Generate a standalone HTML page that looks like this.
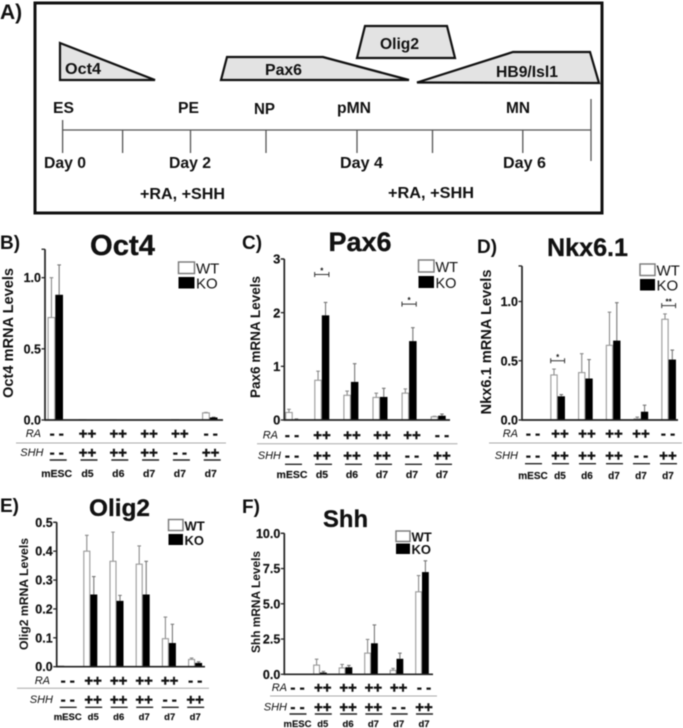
<!DOCTYPE html>
<html lang="en">
<head>
<meta charset="utf-8">
<title>Motor neuron differentiation figure</title>
<style>
html,body{margin:0;padding:0;background:#fff;width:683px;height:728px;overflow:hidden}
svg{display:block;filter:blur(0.5px)}
text{font-family:"Liberation Sans",Arial,sans-serif;fill:#111}
.b{font-weight:700}
.lbl{font-weight:700;font-size:15.5px}
</style>
</head>
<body>
<svg id="figure" xmlns="http://www.w3.org/2000/svg" width="683" height="728" viewBox="0 0 683 728">
  <g id="panel-a">
    <text class="b" x="0" y="19" font-size="21">A)</text>
    <rect x="35" y="3" width="567" height="210" fill="#fff" stroke="#111" stroke-width="3"/>
    <g stroke="#111" stroke-width="2.2" fill="#e3e3e3" stroke-linejoin="miter">
      <polygon points="60,43 155,80 60,80"/>
      <polygon points="227,57 323,57 409,80 221,80"/>
      <polygon points="365,26 447,26 455,58 357,58"/>
      <polygon points="417,82.5 513,52 590,52 599,83"/>
    </g>
    <text class="lbl" x="65" y="74" textLength="36" lengthAdjust="spacingAndGlyphs">Oct4</text>
    <text class="lbl" x="265" y="75" textLength="37" lengthAdjust="spacingAndGlyphs">Pax6</text>
    <text class="lbl" x="380" y="49" textLength="39" lengthAdjust="spacingAndGlyphs">Olig2</text>
    <text class="lbl" x="496" y="77" textLength="62" lengthAdjust="spacingAndGlyphs">HB9/Isl1</text>
    <g stroke="#555" stroke-width="1.3">
      <line x1="62.6" y1="130" x2="591" y2="130"/>
      <line x1="62.6" y1="120" x2="62.6" y2="153"/>
      <line x1="122.6" y1="130" x2="122.6" y2="153"/>
      <line x1="190.5" y1="130" x2="190.5" y2="153"/>
      <line x1="266" y1="130" x2="266" y2="153"/>
      <line x1="357" y1="130" x2="357" y2="153"/>
      <line x1="432.5" y1="130" x2="432.5" y2="153"/>
      <line x1="522.8" y1="130" x2="522.8" y2="153"/>
      <line x1="591" y1="99" x2="591" y2="161"/>
    </g>
    <text class="lbl" x="53" y="113" textLength="21" lengthAdjust="spacingAndGlyphs">ES</text>
    <text class="lbl" x="178" y="113" textLength="21" lengthAdjust="spacingAndGlyphs">PE</text>
    <text class="lbl" x="254" y="114" textLength="21" lengthAdjust="spacingAndGlyphs">NP</text>
    <text class="lbl" x="337" y="113" textLength="34" lengthAdjust="spacingAndGlyphs">pMN</text>
    <text class="lbl" x="506" y="113" textLength="24" lengthAdjust="spacingAndGlyphs">MN</text>
    <text class="lbl" x="44" y="168" textLength="42" lengthAdjust="spacingAndGlyphs">Day 0</text>
    <text class="lbl" x="169" y="168" textLength="42" lengthAdjust="spacingAndGlyphs">Day 2</text>
    <text class="lbl" x="340" y="168" textLength="43" lengthAdjust="spacingAndGlyphs">Day 4</text>
    <text class="lbl" x="503" y="168" textLength="43" lengthAdjust="spacingAndGlyphs">Day 6</text>
    <text class="lbl" x="140" y="199" textLength="85" lengthAdjust="spacingAndGlyphs">+RA, +SHH</text>
    <text class="lbl" x="388" y="198" textLength="86" lengthAdjust="spacingAndGlyphs">+RA, +SHH</text>
  </g>
</svg>
<script>
// Shared categories and treatment rows
const categories = ['mESC', 'd5', 'd6', 'd7', 'd7', 'd7'];
const raRow = ['- -', '++', '++', '++', '++', '- -'];
const shhRow = ['- -', '++', '++', '++', '- -', '++'];

// Oct4
const oct4Ticks = ['0.0', '0.5', '1.0'];
const oct4Wt = [0.72, 0.002, 0.001, 0, 0.002, 0.05];
const oct4Ko = [0.88, 0.003, 0.001, 0, 0.001, 0.018];
const oct4WtErr = [0.28, 0, 0, 0, 0, 0.003];
const oct4KoErr = [0.21, 0, 0, 0, 0, 0.002];

// Pax6
const pax6Ticks = ['0', '1', '2', '3'];
const pax6Wt = [0.14, 0.74, 0.46, 0.42, 0.5, 0.06];
const pax6Ko = [0.01, 1.95, 0.71, 0.43, 1.47, 0.08];
const pax6WtErr = [0.06, 0.17, 0.08, 0.08, 0.08, 0.01];
const pax6KoErr = [0.01, 0.24, 0.34, 0.16, 0.25, 0.03];
const pax6SigGroups = [1, 4];
const pax6SigLevels = [2.71, 2.16];
const pax6SigMarks = ['*', '*'];

// Nkx6.1
const nkxTicks = ['0.0', '0.5', '1.0'];
const nkxWt = [0, 0.38, 0.40, 0.63, 0.01, 0.85];
const nkxKo = [0, 0.20, 0.35, 0.67, 0.07, 0.51];
const nkxWtErr = [0, 0.05, 0.16, 0.28, 0.015, 0.045];
const nkxKoErr = [0, 0.015, 0.16, 0.32, 0.055, 0.08];
const nkxSigGroups = [1, 5];
const nkxSigLevels = [0.5, 0.965];
const nkxSigMarks = ['*', '**'];

// Olig2
const olig2Ticks = ['0.0', '0.1', '0.2', '0.3', '0.4', '0.5'];
const olig2Wt = [0.002, 0.40, 0.365, 0.355, 0.097, 0.025];
const olig2Ko = [0, 0.25, 0.228, 0.25, 0.082, 0.013];
const olig2WtErr = [0, 0.055, 0.101, 0.063, 0.075, 0.005];
const olig2KoErr = [0, 0.062, 0.019, 0.115, 0.065, 0.004];

// Shh
const shhTicks = ['0.0', '2.5', '5.0', '7.5', '10.0'];
const shhWt = [0, 0.65, 0.45, 1.5, 0.28, 5.85];
const shhKo = [0, 0.12, 0.5, 2.2, 1.1, 7.25];
const shhWtErr = [0, 0.42, 0.25, 0.97, 0.14, 1.15];
const shhKoErr = [0, 0.08, 0.13, 1.3, 0.4, 0.8];

const SVGNS = 'http://www.w3.org/2000/svg';
const root = document.getElementById('figure');

function shape(parent, tag, attrs) {
  const n = document.createElementNS(SVGNS, tag);
  for (const k in attrs) n.setAttribute(k, attrs[k]);
  parent.appendChild(n);
  return n;
}
function label(parent, x, y, str, size, opts) {
  const o = opts || {};
  const n = shape(parent, 'text', { x: x, y: y, 'font-size': size, 'font-weight': o.weight || 700, 'text-anchor': o.anchor || 'start' });
  if (o.italic) n.setAttribute('font-style', 'italic');
  if (o.len) { n.setAttribute('textLength', o.len); n.setAttribute('lengthAdjust', 'spacingAndGlyphs'); }
  if (o.rotate) n.setAttribute('transform', 'rotate(-90 ' + x + ' ' + y + ')');
  if (o.heavy) { n.setAttribute('stroke', '#111'); n.setAttribute('stroke-width', o.heavy); }
  n.textContent = str;
  return n;
}

function drawPanel(p) {
  const g = shape(root, 'g', {});
  
  

  const y = v => p.y0 - v * p.pxPerUnit;
  const xGroup = i => p.barX0 + i * p.barStep;
  const xRow = i => p.rowX0 + i * p.rowStep;

  const letter = label(g, p.letterX, p.letterY, p.letter, p.letterSize);
  
  

  const title = label(g, p.titleX, p.titleY, p.title, p.titleSize, { anchor: 'middle', len: p.titleLen, heavy: 0.3 });
  
  

  const yTitle = label(g, p.yTitleX, p.yTitleY, p.title + ' mRNA Levels', p.yTitleSize, { anchor: 'middle', len: p.yTitleLen, rotate: true });
  
  

  // bars and error bars
  categories.forEach((c, i) => {
    const cx = xGroup(i);
    const wtTop = y(p.wt[i]);
    const koTop = y(p.ko[i]);
    const wtMid = cx - p.barW / 2;
    const koMid = cx + p.barW / 2;
    if (p.wtErr[i] > 0) {
      const e = shape(g, 'path', { d: 'M' + wtMid + ' ' + wtTop + 'V' + y(p.wt[i] + p.wtErr[i]) + 'm-1.8 0h3.6', stroke: '#8a8a8a', 'stroke-width': 1.1, fill: 'none' });
      
      
    }
    if (p.koErr[i] > 0) {
      const e = shape(g, 'path', { d: 'M' + koMid + ' ' + koTop + 'V' + y(p.ko[i] + p.koErr[i]) + 'm-1.8 0h3.6', stroke: '#777', 'stroke-width': 1.1, fill: 'none' });
      
      
    }
    const bw = shape(g, 'rect', { x: cx - p.barW + 0.5, y: wtTop, width: Math.max(p.barW - 1, 0), height: Math.max(p.y0 - wtTop, 0), fill: '#fff', stroke: '#999', 'stroke-width': 1.1 });
    
    
    const bk = shape(g, 'rect', { x: cx, y: koTop, width: p.barW, height: Math.max(p.y0 - koTop, 0), fill: '#000' });
    
    
  });

  // axes
  const yAxis = shape(g, 'line', { x1: p.axisX, y1: y(p.yMax), x2: p.axisX, y2: p.y0 + 0.8, stroke: '#222', 'stroke-width': 1.7 });
  
  
  const xAxis = shape(g, 'line', { x1: p.axisX, y1: p.y0, x2: p.axisEnd, y2: p.y0, stroke: '#222', 'stroke-width': 1.7 });
  
  

  const topTick = shape(g, 'line', { x1: p.axisX - 3.5, y1: y(p.yMax), x2: p.axisX, y2: y(p.yMax), stroke: '#222', 'stroke-width': 1.3 });
  
  

  p.ticks.forEach(t => {
    const v = parseFloat(t);
    const tk = shape(g, 'line', { x1: p.axisX - 3.5, y1: y(v), x2: p.axisX, y2: y(v), stroke: '#222', 'stroke-width': 1.3 });
    
    
    const tl = label(g, p.axisX - 4, y(v) + p.tickSize * 0.36, t, p.tickSize, { anchor: 'end', heavy: 0.2 });
    
    
  });

  // significance brackets
  (p.sigGroups || []).forEach((grp, i) => {
    const cx = xGroup(grp);
    const by = y(p.sigLevels[i]);
    const hw = p.barW * 0.95;
    const br = shape(g, 'path', { d: 'M' + (cx - hw) + ' ' + (by - 2.5) + 'v5M' + (cx - hw) + ' ' + by + 'H' + (cx + hw) + 'M' + (cx + hw) + ' ' + (by - 2.5) + 'v5', stroke: '#333', 'stroke-width': 1, fill: 'none' });
    
    
    const st = label(g, cx, by - 1, p.sigMarks[i], 8, { anchor: 'middle' });
    
    
  });

  // legend
  const wtBox = shape(g, 'rect', { x: p.legX, y: p.legWtY, width: p.legW, height: p.legH, fill: '#fff', stroke: '#777', 'stroke-width': 1.4 });
  
  
  const koBox = shape(g, 'rect', { x: p.legX, y: p.legKoY, width: p.legW, height: p.legH, fill: '#000' });
  
  
  const wtText = label(g, p.legX + p.legW + 1.5, p.legWtY + p.legH, 'WT', p.legSize, { weight: p.legWeight });
  
  
  const koText = label(g, p.legX + p.legW + 1.5, p.legKoY + p.legH, 'KO', p.legSize, { weight: p.legWeight });
  
  

  // treatment rows
  const raName = label(g, p.raLabelX, p.raY + 4, 'RA', 11, { weight: 400, italic: true, anchor: 'end' });
  
  
  const shhName = label(g, p.raLabelX + p.shhLabelDx, p.shhY + 4, 'SHH', 11, { weight: 400, italic: true, anchor: 'end' });
  
  
  const sep = shape(g, 'line', { x1: p.sepX1, y1: p.sepY, x2: p.sepX2, y2: p.sepY, stroke: '#aaa', 'stroke-width': 1 });
  
  

  categories.forEach((c, i) => {
    const cx = xRow(i);
    const ra = label(g, cx, p.raY + 5.5, raRow[i], 15, { anchor: 'middle', heavy: 0.4 });
    
    
    const sh = label(g, cx, p.shhY + 5.5, shhRow[i], 15, { anchor: 'middle', heavy: 0.4 });
    
    
    const ln = shape(g, 'line', { x1: cx - 8 + p.lineDx, y1: p.lineY, x2: cx + 9 + p.lineDx, y2: p.lineY, stroke: '#222', 'stroke-width': 1.4 });
    
    
    const cat = label(g, cx, p.catY, c, p.catSize, { anchor: 'middle', heavy: 0.15 });
    
    
  });
}

drawPanel({ key: 'oct4', title: 'Oct4', letter: 'B)', letterX: 0, letterY: 249, letterSize: 19,
  titleX: 122.5, titleY: 255, titleSize: 29, titleLen: 65,
  yTitleX: 13, yTitleY: 333, yTitleSize: 14.5, yTitleLen: 130,
  axisX: 45, axisEnd: 223, y0: 420, pxPerUnit: 142.3, yMax: 1.2, ticks: oct4Ticks, tickSize: 12.5,
  barX0: 55.3, barStep: 30.9, barW: 7.7, wt: oct4Wt, ko: oct4Ko, wtErr: oct4WtErr, koErr: oct4KoErr,
  legX: 178.5, legWtY: 262, legKoY: 277, legW: 16, legH: 11.5, legSize: 15, legWeight: 400,
  raLabelX: 41, shhLabelDx: 2.5, raY: 433, shhY: 452, sepX1: 16, sepX2: 226, sepY: 443,
  rowX0: 56.7, rowStep: 30.8, lineDx: 1, lineY: 460, catY: 477, catSize: 10.5 });

drawPanel({ key: 'pax6', title: 'Pax6', letter: 'C)', letterX: 242, letterY: 249, letterSize: 19,
  titleX: 360, titleY: 251, titleSize: 27, titleLen: 63,
  yTitleX: 260, yTitleY: 337, yTitleSize: 13.5, yTitleLen: 122,
  axisX: 284.3, axisEnd: 450, y0: 420, pxPerUnit: 53.67, yMax: 3, ticks: pax6Ticks, tickSize: 13,
  barX0: 292.7, barStep: 29.1, barW: 7.5, wt: pax6Wt, ko: pax6Ko, wtErr: pax6WtErr, koErr: pax6KoErr,
  sigGroups: pax6SigGroups, sigLevels: pax6SigLevels, sigMarks: pax6SigMarks,
  legX: 418.5, legWtY: 260, legKoY: 276, legW: 15.5, legH: 12, legSize: 14.5, legWeight: 400,
  raLabelX: 278, shhLabelDx: 3, raY: 434.5, shhY: 455, sepX1: 257, sepX2: 457.5, sepY: 443.7,
  rowX0: 292, rowStep: 30, lineDx: 1, lineY: 464.3, catY: 478, catSize: 10.5 });

drawPanel({ key: 'nkx6-1', title: 'Nkx6.1', letter: 'D)', letterX: 477, letterY: 253, letterSize: 19,
  titleX: 587.5, titleY: 256, titleSize: 25, titleLen: 81,
  yTitleX: 491, yTitleY: 342, yTitleSize: 14.6, yTitleLen: 145,
  axisX: 522, axisEnd: 678, y0: 420, pxPerUnit: 118.5, yMax: 1.3, ticks: nkxTicks, tickSize: 12.5,
  barX0: 529.9, barStep: 27.75, barW: 7.3, wt: nkxWt, ko: nkxKo, wtErr: nkxWtErr, koErr: nkxKoErr,
  sigGroups: nkxSigGroups, sigLevels: nkxSigLevels, sigMarks: nkxSigMarks,
  legX: 640, legWtY: 264, legKoY: 279, legW: 15, legH: 11.5, legSize: 15, legWeight: 400,
  raLabelX: 518, shhLabelDx: 0, raY: 433, shhY: 455, sepX1: 489, sepX2: 682, sepY: 443,
  rowX0: 533, rowStep: 27, lineDx: 0, lineY: 463.7, catY: 479, catSize: 10 });

drawPanel({ key: 'olig2', title: 'Olig2', letter: 'E)', letterX: 0, letterY: 512, letterSize: 19,
  titleX: 119.5, titleY: 516, titleSize: 24.5, titleLen: 61,
  yTitleX: 28, yTitleY: 594, yTitleSize: 12.1, yTitleLen: 112,
  axisX: 56.7, axisEnd: 205, y0: 666.7, pxPerUnit: 288.8, yMax: 0.5, ticks: olig2Ticks, tickSize: 12.5,
  barX0: 64.1, barStep: 26.2, barW: 7, wt: olig2Wt, ko: olig2Ko, wtErr: olig2WtErr, koErr: olig2KoErr,
  legX: 168.5, legWtY: 519.5, legKoY: 534, legW: 14.5, legH: 11, legSize: 13, legWeight: 700,
  raLabelX: 50, shhLabelDx: 3, raY: 680, shhY: 699, sepX1: 17, sepX2: 209, sepY: 688.3,
  rowX0: 67.7, rowStep: 25.5, lineDx: 0, lineY: 707.3, catY: 720, catSize: 9.5 });

drawPanel({ key: 'shh', title: 'Shh', letter: 'F)', letterX: 242, letterY: 513, letterSize: 19,
  titleX: 345.5, titleY: 527, titleSize: 24, titleLen: 45,
  yTitleX: 260, yTitleY: 602, yTitleSize: 11.8, yTitleLen: 102,
  axisX: 284.3, axisEnd: 433, y0: 674.3, pxPerUnit: 14.1, yMax: 10, ticks: shhTicks, tickSize: 12.5,
  barX0: 294.5, barStep: 25.5, barW: 6.8, wt: shhWt, ko: shhKo, wtErr: shhWtErr, koErr: shhKoErr,
  legX: 396, legWtY: 531, legKoY: 543.5, legW: 14, legH: 10.5, legSize: 13, legWeight: 700,
  raLabelX: 287, shhLabelDx: 0, raY: 687, shhY: 706.7, sepX1: 270, sepX2: 437, sepY: 696,
  rowX0: 297.5, rowStep: 25.3, lineDx: 0, lineY: 714, catY: 727, catSize: 9.5 });
</script>
</body>
</html>
